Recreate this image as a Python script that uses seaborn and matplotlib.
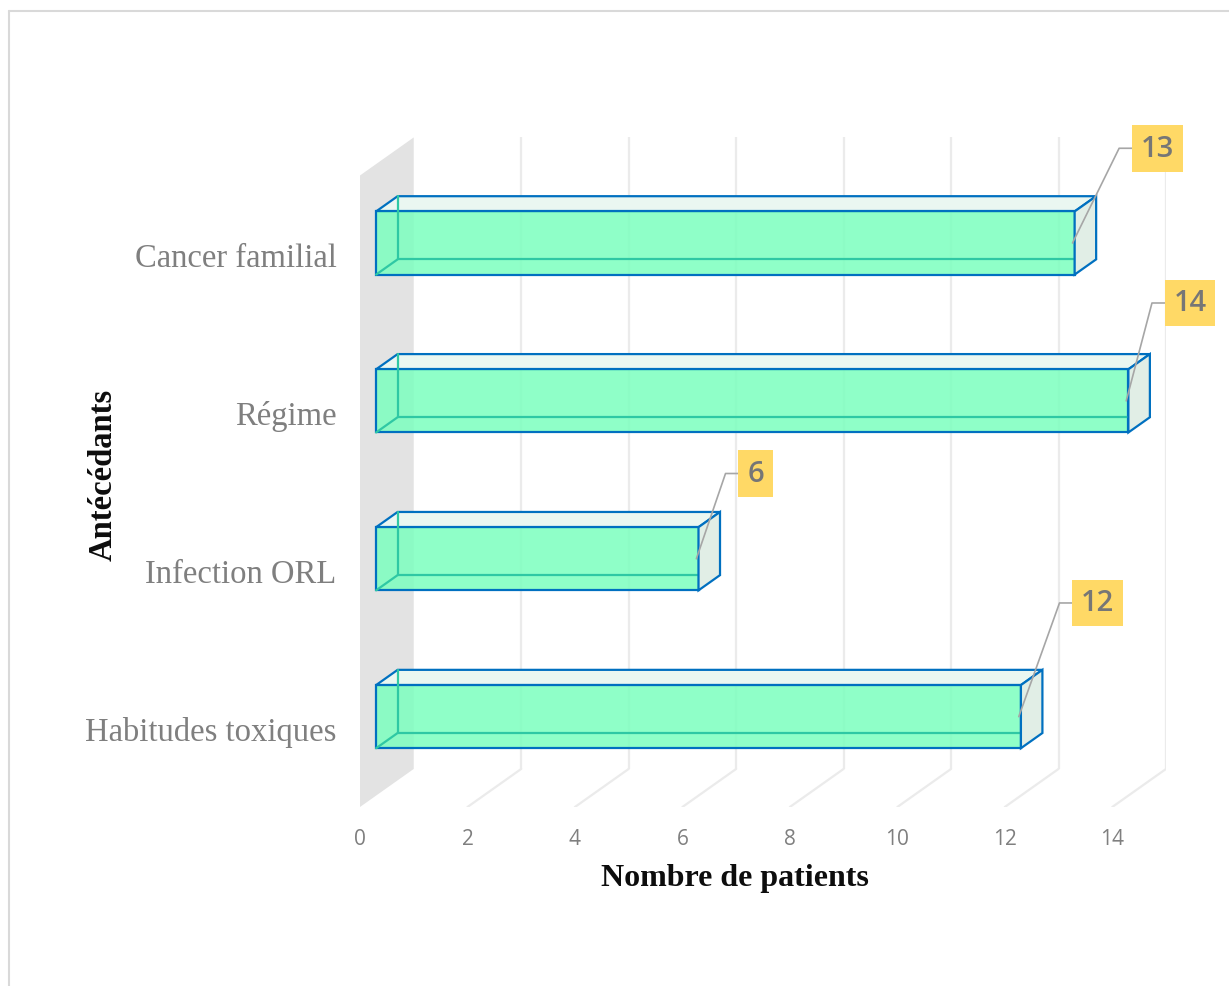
import matplotlib
matplotlib.use("Agg")
import matplotlib.pyplot as plt
from matplotlib.patches import Polygon
from matplotlib.lines import Line2D
import seaborn as sns

# Data
CATEGORIES = ["Cancer familial", "Régime", "Infection ORL", "Habitudes toxiques"]
VALUES = [13, 14, 6, 12]
X_TICKS = [0, 2, 4, 6, 8, 10, 12, 14]
X_LABEL = "Nombre de patients"
Y_LABEL = "Antécédants"

# Layout of the pseudo-3D projection (in data units)
DEPTH_X = 1.0      # horizontal shift of the back plane
DEPTH_Y = 0.241    # vertical shift of the back plane (upwards)
BAR_FRONT, BAR_BACK = 0.3, 0.7   # bar depth range as a fraction of the full depth
BAR_HALF = 0.2
# label box positions relative to the bar end (dx, dy)
LABEL_OFFSETS = [(1.54, -0.60), (1.15, -0.62), (1.06, -0.54), (1.43, -0.72)]

EDGE = "#0070C0"
HIDDEN_EDGE = "#2FC8A4"
FRONT_RGBA = (0.49, 1.0, 0.75, 0.86)
TOP_FILL = "#EAF7F1"
SIDE_FILL = "#E1EEE6"
WALL = "#E3E3E3"
GRID = "#EBEBEB"
TEXT_GRAY = "#7F7F7F"

sns.set_style("white")
plt.rcParams["font.family"] = ["Liberation Serif", "DejaVu Serif"]

fig = plt.figure(figsize=(12.29, 9.87), dpi=100)
ax = fig.add_axes([360 / 1229, (987 - 808) / 987, 806 / 1229, 671 / 987])

sns.barplot(x=VALUES, y=CATEGORIES, orient="h", width=2 * BAR_HALF, ax=ax,
            color=FRONT_RGBA[:3], saturation=1)

ax.set_xlim(0, 15)
y_floor = len(CATEGORIES) - 0.5
y_top = -0.5 - DEPTH_Y
ax.set_ylim(y_floor, y_top - 0.009)

# Back wall gridlines and floor lines
for v in X_TICKS[1:]:
    ax.plot([v + DEPTH_X, v + DEPTH_X], [y_top, y_floor - DEPTH_Y],
            color=GRID, lw=1.6, zorder=0.5, solid_capstyle="butt")
    ax.plot([v, v + DEPTH_X], [y_floor, y_floor - DEPTH_Y],
            color=GRID, lw=1.6, zorder=0.5)

# Side wall on the left
ax.add_patch(Polygon([(0, -0.5), (DEPTH_X, y_top), (DEPTH_X, y_floor - DEPTH_Y), (0, y_floor)],
                     closed=True, facecolor=WALL, edgecolor="none", zorder=1))

ends = []
for patch in list(ax.patches):
    if isinstance(patch, Polygon):
        continue
    i = int(round(patch.get_y() + patch.get_height() / 2))
    v = patch.get_width()
    xf0, xf1 = BAR_FRONT * DEPTH_X, v + BAR_FRONT * DEPTH_X
    xb0, xb1 = BAR_BACK * DEPTH_X, v + BAR_BACK * DEPTH_X
    cf = i - BAR_FRONT * DEPTH_Y
    cb = i - BAR_BACK * DEPTH_Y

    # front face from the seaborn bar
    patch.set_x(xf0)
    patch.set_y(cf - BAR_HALF)
    patch.set_facecolor(FRONT_RGBA)
    patch.set_edgecolor(EDGE)
    patch.set_linewidth(1.6)
    patch.set_zorder(3)

    # hidden edges seen through the transparent front
    ax.plot([xb0, xb0, xb1], [cb - BAR_HALF, cb + BAR_HALF, cb + BAR_HALF],
            color=HIDDEN_EDGE, lw=1.6, zorder=3.2)
    ax.plot([xf0, xb0], [cf + BAR_HALF, cb + BAR_HALF], color=HIDDEN_EDGE, lw=1.6, zorder=3.2)

    # top and right faces
    ax.add_patch(Polygon([(xf0, cf - BAR_HALF), (xf1, cf - BAR_HALF),
                          (xb1, cb - BAR_HALF), (xb0, cb - BAR_HALF)],
                         closed=True, facecolor=TOP_FILL, edgecolor=EDGE, lw=1.6, zorder=2.5))
    ax.add_patch(Polygon([(xf1, cf - BAR_HALF), (xb1, cb - BAR_HALF),
                          (xb1, cb + BAR_HALF), (xf1, cf + BAR_HALF)],
                         closed=True, facecolor=SIDE_FILL, edgecolor=EDGE, lw=1.6, zorder=3.5))
    ends.append((i, v, xf1, cf))

# Value labels with leader lines
label_font = ["Open Sans", "DejaVu Sans"]
texts = []
for i, v, xe, ye in ends:
    dx, dy = LABEL_OFFSETS[i]
    t = ax.text(xe + dx, ye + dy, f"{v:g}", ha="center", va="center",
                fontsize=21, family=label_font, fontweight="semibold", color="#767676",
                zorder=6,
                bbox=dict(boxstyle="square,pad=0.3", facecolor="#FFD966", edgecolor="none"))
    texts.append((t, xe - 0.04, ye))

fig.canvas.draw()
renderer = fig.canvas.get_renderer()
inv = ax.transData.inverted()
for t, xe, ye in texts:
    bb = t.get_bbox_patch().get_window_extent(renderer)
    lx, ly = inv.transform((bb.x0, (bb.y0 + bb.y1) / 2))
    ax.plot([lx, lx - 0.24, xe], [ly, ly, ye], color="#A6A6A6", lw=1.2,
            zorder=5, clip_on=False)

# Axes styling
for s in ax.spines.values():
    s.set_visible(False)
ax.set_xticks(X_TICKS)
ax.set_xticklabels([str(t) for t in X_TICKS], family=["Open Sans", "DejaVu Sans"],
                   fontsize=15, color=TEXT_GRAY)
ax.set_yticks(range(len(CATEGORIES)))
ax.set_yticklabels(CATEGORIES, fontsize=23.5, color=TEXT_GRAY)
ax.tick_params(axis="x", length=0, pad=15)
ax.tick_params(axis="y", length=0, pad=17)

ax.set_xlabel(X_LABEL, fontsize=23, fontweight="bold", color="#0D0D0D")
ax.set_ylabel(Y_LABEL, fontsize=23.5, fontweight="bold", color="#0D0D0D")
ax.xaxis.label.set_va("center")
ax.yaxis.label.set_va("center")
ax.xaxis.set_label_coords((735 - 360) / 806, (808 - 879) / 671)
ax.yaxis.set_label_coords((103 - 360) / 806, (808 - 475) / 671)

# Chart area border
fig.add_artist(Line2D([9 / 1229, 9 / 1229], [0, 1 - 12 / 987], color="#D9D9D9", lw=1.5))
fig.add_artist(Line2D([9 / 1229, 1], [1 - 12 / 987, 1 - 12 / 987], color="#D9D9D9", lw=1.5))

fig.savefig("out.png", dpi=100, facecolor="white")
